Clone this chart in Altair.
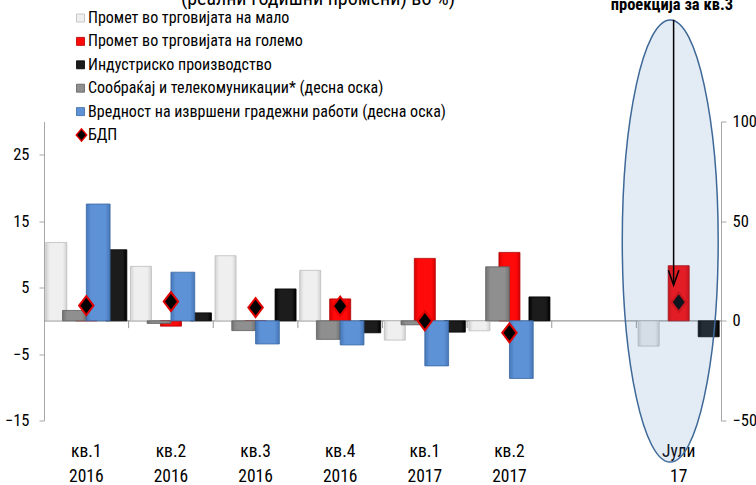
import altair as alt
import pandas as pd

FONT = "Roboto Condensed, Liberation Sans, Arial, sans-serif"

# Category axis: quarters, an empty slot, then the July projection
categories = ["кв.1|2016", "кв.2|2016", "кв.3|2016", "кв.4|2016",
              "кв.1|2017", "кв.2|2017", " ", "Јули|17"]

# Left-axis series, real annual change in %
retail = [11.8, 8.2, 9.8, 7.6, -2.9, -1.5, None, -3.8]
wholesale = [1.0, -0.8, -0.5, 3.3, 9.4, 10.3, None, 8.3]
industry = [10.7, 1.2, 4.8, -1.8, -1.7, 3.6, None, -2.4]
# Right-axis series
transport = [5.2, -1.3, -4.9, -9.3, -2.0, 27.1, None, None]
construction = [58.6, 24.4, -11.6, -12.1, -22.6, -28.9, None, None]
# GDP (left axis)
gdp = [2.3, 2.9, 2.0, 2.2, 0.0, -1.8, None, 2.8]

series_names = [
    "Промет во трговијата на мало",
    "Промет во трговијата на големо",
    "Индустриско производство",
    "Сообраќај и телекомуникации* (десна оска)",
    "Вредност на извршени градежни работи (десна оска)",
]
gdp_name = "БДП"
title_text = "(реални годишни промени) во %)"
note_text = "проекција за кв.3"

primary = series_names[:3]
secondary = series_names[3:]
values = dict(zip(series_names, [retail, wholesale, industry, transport, construction]))

# fill: (edge, centre), outline
styles = {
    series_names[0]: ("#d2d2d2", "#efefef", "#bdbdbd"),
    series_names[1]: ("#d80000", "#ff0a0a", "#b00000"),
    series_names[2]: ("#000000", "#1c1c1c", "#000000"),
    series_names[3]: ("#737373", "#8f8f8f", "#5e5e5e"),
    series_names[4]: ("#4677b8", "#5d92d6", "#3a67a3"),
}


def long_frame(name):
    rows = [{"cat": c, "series": name, "value": v}
            for c, v in zip(categories, values[name]) if v is not None]
    return pd.DataFrame(rows)


def gradient(edge, mid):
    return {"gradient": "linear", "x1": 0, "x2": 1, "y1": 0, "y2": 0,
            "stops": [{"offset": 0, "color": edge}, {"offset": 0.2, "color": mid},
                      {"offset": 0.8, "color": mid}, {"offset": 1, "color": edge}]}


x_axis = alt.Axis(title=None, domain=False, ticks=False, grid=False, labelAngle=0,
                  labelExpr="split(datum.label, '|')", labelFont=FONT, labelFontSize=17.5,
                  labelLineHeight=25, labelPadding=22, labelColor="black")
x_scale = alt.Scale(type="band", domain=categories, paddingInner=0, paddingOuter=0)


def xenc(band=None):
    if band is None:
        return alt.X("cat:N", scale=x_scale, axis=x_axis, sort=categories)
    return alt.X("cat:N", scale=x_scale, axis=x_axis, sort=categories, bandPosition=band)


left_scale = alt.Scale(domain=[-15, 30], nice=False, zero=False)
right_scale = alt.Scale(domain=[-50, 100], nice=False, zero=False)
left_axis = alt.Axis(orient="left", values=[-15, -5, 5, 15, 25], grid=False, title=None,
                     domainColor="#a6a6a6", tickColor="#a6a6a6", tickSize=5,
                     labelFont=FONT, labelFontSize=16.5, labelColor="black", labelPadding=10)
right_axis = alt.Axis(orient="right", values=[-50, 0, 50, 100], grid=False, title=None,
                      domainColor="#a6a6a6", tickColor="#a6a6a6", tickSize=5,
                      labelFont=FONT, labelFontSize=16.5, labelColor="black", labelPadding=6)

layers = []

# zero line
layers.append(
    alt.Chart(pd.DataFrame({"v": [0]})).mark_rule(color="#9a9a9a", strokeWidth=1.3)
    .encode(y=alt.Y("v:Q", scale=left_scale, axis=None))
)

# primary bars
for i, name in enumerate(primary):
    edge, mid, line = styles[name]
    layers.append(
        alt.Chart(long_frame(name)).mark_bar(color=gradient(edge, mid), stroke=line, strokeWidth=0.8)
        .encode(
            x=xenc(),
            xOffset=alt.XOffset("series:N", sort=primary,
                                scale=alt.Scale(domain=primary, paddingInner=0.3, paddingOuter=0.06)),
            y=alt.Y("value:Q", scale=left_scale, axis=left_axis if i == 0 else None),
        )
    )

# secondary bars
for i, name in enumerate(secondary):
    edge, mid, line = styles[name]
    layers.append(
        alt.Chart(long_frame(name)).mark_bar(color=gradient(edge, mid), stroke=line, strokeWidth=0.8)
        .encode(
            x=xenc(),
            xOffset=alt.XOffset("series:N", sort=secondary,
                                scale=alt.Scale(domain=secondary, paddingInner=0, paddingOuter=0.78)),
            y=alt.Y("value:Q", scale=right_scale, axis=right_axis if i == 0 else None),
        )
    )

# small category ticks under the zero line
ticks_df = pd.DataFrame({"cat": categories[1:], "y0": 0.0, "y1": -1.1})
layers.append(
    alt.Chart(ticks_df).mark_rule(color="#9a9a9a", strokeWidth=1)
    .encode(x=xenc(0), y=alt.Y("y0:Q", scale=left_scale, axis=None), y2="y1:Q")
)

# GDP diamonds
diamond = "M0,-1L0.76,0L0,1L-0.76,0Z"
gdp_df = pd.DataFrame([{"cat": c, "value": v} for c, v in zip(categories, gdp) if v is not None])
layers.append(
    alt.Chart(gdp_df).mark_point(shape=diamond, filled=True, fill="#000000", stroke="#e00000",
                                 strokeWidth=2, size=361, opacity=1)
    .encode(x=xenc(), y=alt.Y("value:Q", scale=left_scale, axis=None))
)

# highlight ellipse around the projection
k = 0.5523
a = 0.217
ellipse = (f"M0,-1C{k*a:.4f},-1,{a},{-k},{a},0C{a},{k},{k*a:.4f},1,0,1"
           f"C{-k*a:.4f},1,{-a},{k},{-a},0C{-a},{-k},{-k*a:.4f},-1,0,-1Z")
ell_df = pd.DataFrame({"cat": [categories[-1]], "value": [12.0]})
layers.append(
    alt.Chart(ell_df).mark_point(shape=ellipse, filled=True, fill="#4f81bd", fillOpacity=0.16,
                                 stroke="#3d6897", strokeWidth=1.5, strokeOpacity=1, size=442 ** 2)
    .encode(x=xenc(0.40), y=alt.Y("value:Q", scale=left_scale, axis=None))
)

# arrow pointing at the projected bar
arrow_df = pd.DataFrame({"cat": [categories[-1]], "top": [45.3], "tip": [5.4], "head": [6.5]})
layers.append(
    alt.Chart(arrow_df).mark_rule(color="black", strokeWidth=1.5)
    .encode(x=xenc(0.44), y=alt.Y("top:Q", scale=left_scale, axis=None), y2="tip:Q")
)
layers.append(
    alt.Chart(arrow_df).mark_point(shape="M-0.7,-1L0,1L0.7,-1", filled=False, stroke="black",
                                   strokeWidth=1.5, size=225, opacity=1)
    .encode(x=xenc(0.44), y=alt.Y("head:Q", scale=left_scale, axis=None))
)

# projection note (its top runs past the upper edge)
note_df = pd.DataFrame({"cat": [categories[-1]], "value": [46.8], "t": [note_text]})
layers.append(
    alt.Chart(note_df).mark_text(font=FONT, fontSize=16.5, fontWeight="bold", color="black",
                                 align="center", baseline="alphabetic")
    .encode(x=xenc(0.42), y=alt.Y("value:Q", scale=left_scale, axis=None), text="t:N")
)

# chart subtitle (upper part falls outside the view)
layers.append(
    alt.Chart(pd.DataFrame({"t": [title_text]})).mark_text(
        font=FONT, fontSize=20, color="black", align="center", baseline="alphabetic")
    .encode(x=alt.value(274), y=alt.value(-116.5), text="t:N")
)

# legend
legend_df = pd.DataFrame({"name": series_names + [gdp_name], "row": list(range(6))})
legend_y = alt.Y("row:Q", scale=alt.Scale(domain=[0, 5], range=[-103.5, 13.5]), axis=None)
layers.append(
    alt.Chart(legend_df[legend_df["row"] < 5]).mark_point(shape="square", filled=True, size=64,
                                                          opacity=1, strokeWidth=0.8)
    .encode(x=alt.value(36.5), y=legend_y,
            fill=alt.Fill("name:N", scale=alt.Scale(domain=series_names,
                                                    range=[styles[n][1] for n in series_names]),
                          legend=None),
            stroke=alt.Stroke("name:N", scale=alt.Scale(domain=series_names,
                                                        range=[styles[n][2] for n in series_names]),
                              legend=None))
)
layers.append(
    alt.Chart(legend_df[legend_df["row"] == 5]).mark_point(
        shape="M0,-1L0.85,0L0,1L-0.85,0Z", filled=True, fill="#000000", stroke="#e00000",
        strokeWidth=1.5, size=150, opacity=1)
    .encode(x=alt.value(37.5), y=legend_y)
)
layers.append(
    alt.Chart(legend_df).mark_text(font=FONT, fontSize=16, color="black", align="left",
                                   baseline="middle")
    .encode(x=alt.value(44), y=legend_y, text="name:N")
)

chart = (
    alt.layer(*layers)
    .resolve_scale(y="independent", xOffset="independent", fill="independent", stroke="independent")
    .properties(width=677, height=299,
                autosize=alt.AutoSizeParams(type="none"),
                padding={"left": 44, "top": 121.5, "right": 35, "bottom": 64.5},
                background="white")
    .configure_view(stroke=None)
)

chart.save("out.html", embed_options={"renderer": "svg", "actions": False})
